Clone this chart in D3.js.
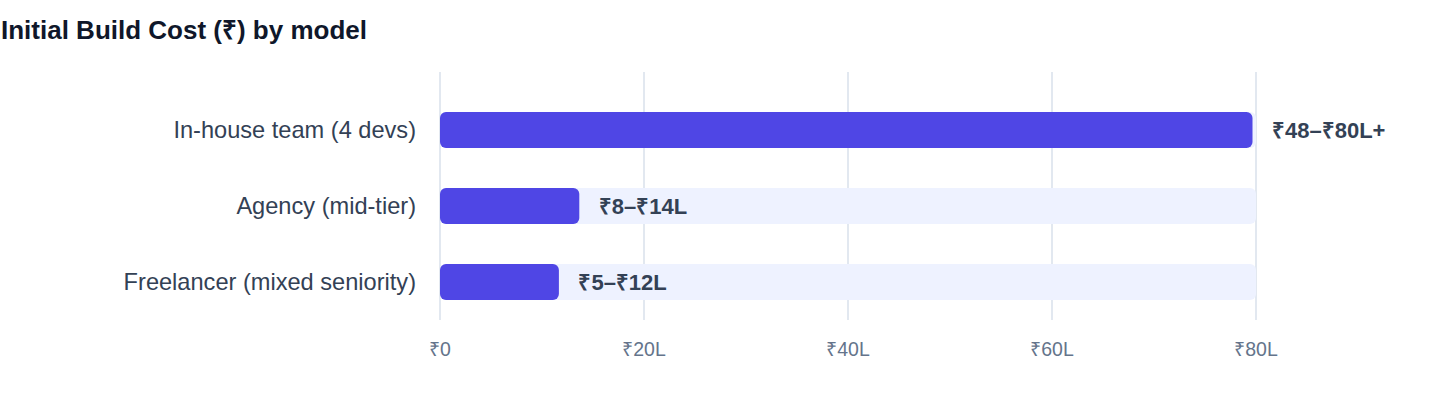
<!DOCTYPE html>
<html>
<head>
<meta charset="utf-8">
<script src="https://cdn.jsdelivr.net/npm/d3@7"></script>
<style>
  html, body { margin: 0; padding: 0; background: #fff; }
  svg { display: block; font-family: "Liberation Sans", Arial, Helvetica, sans-serif; }
</style>
</head>
<body>
<div id="chart"></div>
<script>
// Data
var models = ["In-house team (4 devs)", "Agency (mid-tier)", "Freelancer (mixed seniority)"];
var upperCost = [80, 14, 12];          // lakh ₹, upper end of range
var rangeLabels = ["₹48–₹80L+", "₹8–₹14L", "₹5–₹12L"];
var tickValues = [0, 20, 40, 60, 80];
var tickLabels = ["₹0", "₹20L", "₹40L", "₹60L", "₹80L"];
var trackMax = 80;

var width = 1440, height = 408;
var margin = {top: 72, right: 184, bottom: 88, left: 440};

var svg = d3.select("#chart")
  .append("svg")
    .attr("width", width)
    .attr("height", height);

// Title
svg.append("text")
    .attr("x", 1)
    .attr("y", 39)
    .attr("fill", "#0f172a")
    .attr("font-size", 26)
    .attr("font-weight", 700)
    .text("Initial Build Cost (₹) by model");

var x = d3.scaleLinear()
    .domain([0, 80])
    .range([margin.left, width - margin.right]);

var y = d3.scaleBand()
    .domain(models)
    .range([margin.top + 20, height - margin.bottom])
    .padding(0);

var barH = 36;
var rows = models.map(function (m, i) {
  return {model: m, value: upperCost[i], label: rangeLabels[i]};
});

// Grid lines
svg.append("g")
  .selectAll("line")
  .data(tickValues)
  .enter()
  .append("line")
    .attr("x1", d => x(d))
    .attr("x2", d => x(d))
    .attr("y1", margin.top)
    .attr("y2", height - margin.bottom)
    .attr("stroke", "#e2e8f0")
    .attr("stroke-width", 2);

// Tick labels
svg.append("g")
  .selectAll("text")
  .data(tickValues)
  .enter()
  .append("text")
    .attr("x", d => x(d))
    .attr("y", 356)
    .attr("text-anchor", "middle")
    .attr("fill", "#64748b")
    .attr("font-size", 19.5)
    .text((d, i) => tickLabels[i]);

// Background tracks
svg.append("g")
  .selectAll("rect")
  .data(rows)
  .enter()
  .append("rect")
    .attr("x", x(0))
    .attr("y", d => y(d.model) + (y.bandwidth() - barH) / 2)
    .attr("width", x(trackMax) - x(0))
    .attr("height", barH)
    .attr("rx", 6)
    .attr("fill", "#eef2ff");

// Bars
svg.append("g")
  .selectAll("rect")
  .data(rows)
  .enter()
  .append("rect")
    .attr("x", x(0))
    .attr("y", d => y(d.model) + (y.bandwidth() - barH) / 2)
    .attr("width", d => x(d.value) - x(0) - 3.5)
    .attr("height", barH)
    .attr("rx", 6)
    .attr("fill", "#4f46e5");

// Category labels
svg.append("g")
  .selectAll("text")
  .data(rows)
  .enter()
  .append("text")
    .attr("x", x(0) - 24)
    .attr("y", d => y(d.model) + y.bandwidth() / 2)
    .attr("dy", "0.36em")
    .attr("text-anchor", "end")
    .attr("fill", "#334155")
    .attr("font-size", 23.6)
    .text(d => d.model);

// Value labels
svg.append("g")
  .selectAll("text")
  .data(rows)
  .enter()
  .append("text")
    .attr("x", d => x(d.value) + 16)
    .attr("y", d => y(d.model) + y.bandwidth() / 2)
    .attr("dy", "0.36em")
    .attr("fill", "#334155")
    .attr("font-size", 22)
    .attr("font-weight", 700)
    .text(d => d.label);
</script>
</body>
</html>
